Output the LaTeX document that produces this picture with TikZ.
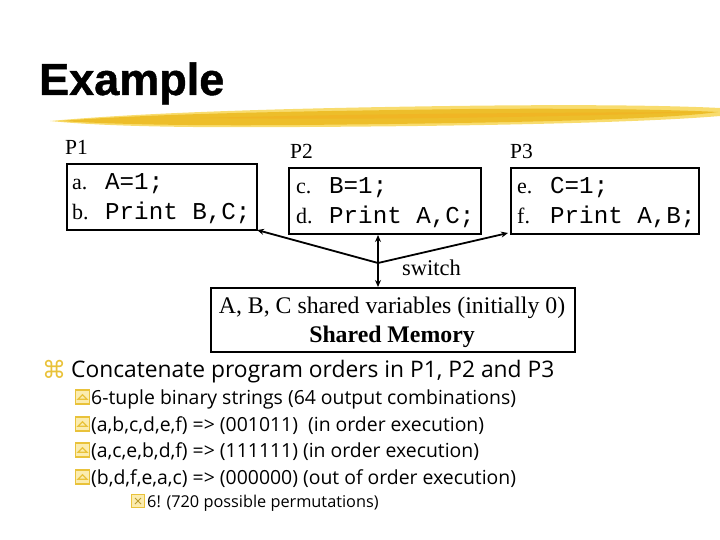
\documentclass[tikz,border=0pt]{standalone}
\usepackage{fontspec}
\setmainfont{Liberation Serif}
\newfontfamily\titlefont[BoldFeatures={FakeBold=1}]{Liberation Sans}
\newfontfamily\bodyfont{Open Sans}
\newfontfamily\codefont{Liberation Mono}
\newfontfamily\symfont{DejaVu Sans}
\usetikzlibrary{arrows.meta,calc}
\definecolor{gold}{HTML}{EDBE2A}
\definecolor{lightgold}{HTML}{F8DC6E}
\definecolor{bulletgold}{HTML}{E9C23A}
\tikzset{
  procbox/.style={draw=black, line width=2pt, minimum width=#1, minimum height=66pt, inner sep=0pt},
  proclabel/.style={anchor=base west, font=\fontsize{21.5}{24}\selectfont, inner sep=0pt},
  codeline/.style={anchor=base west, inner sep=0pt, font=\fontsize{22}{24}\selectfont},
  codetext/.style={anchor=base west, inner sep=0pt, font=\codefont\fontsize{24.2}{24}\selectfont},
  link/.style={line width=1.8pt, -{Stealth[length=7pt,width=6pt]}},
  bul/.style={anchor=base west, inner sep=0pt},
  subbox/.style={draw=bulletgold, fill=lightgold!55, line width=1.2pt, minimum size=14pt, inner sep=0pt},
}
\begin{document}
\begin{tikzpicture}[x=1pt,y=-1pt]
\useasboundingbox (0,0) rectangle (720,540);
% title
\node[anchor=base west, inner sep=0pt, font=\titlefont\bfseries\fontsize{45}{48}\selectfont] (title) at (39,95) {Example};
% brush stroke
\fill[lightgold] (50,121) .. controls (150,112) and (300,108) .. (450,106) .. controls (600,104) and (680,106) .. (720,108) -- (720,116) .. controls (650,122) and (500,126) .. (300,127) .. controls (180,128) and (100,126) .. (50,121) -- cycle;
\fill[gold] (60,121) .. controls (160,113) and (320,111) .. (470,109) .. controls (600,108) and (680,110) .. (718,112) .. controls (660,120) and (500,123) .. (300,125) .. controls (180,126) and (110,124) .. (60,121) -- cycle;
\fill[gold!85!orange] (200,118) .. controls (350,114) and (500,113) .. (700,112) .. controls (550,117) and (400,120) .. (200,118) -- cycle;
% process labels
\node[proclabel] (p1l) at (65,155) {P1};
\node[proclabel] (p2l) at (290,159) {P2};
\node[proclabel] (p3l) at (510,159) {P3};
% process boxes
\node[procbox=190pt, anchor=north west] (p1) at (66,163) {};
\node[procbox=192pt, anchor=north west] (p2) at (288,167) {};
\node[procbox=188pt, anchor=north west] (p3) at (510,167) {};
\node[codeline] (a1) at (72,190) {a.};
\node[codetext] (a1c) at (105,190) {A=1;};
\node[codeline] (b1) at (72,219) {b.};
\node[codetext] (b1c) at (105,219) {Print B,C;};
\node[codeline] (c2) at (296,194) {c.};
\node[codetext] (c2c) at (329,194) {B=1;};
\node[codeline] (d2) at (296,223) {d.};
\node[codetext] (d2c) at (329,223) {Print A,C;};
\node[codeline] (e3) at (517,194) {e.};
\node[codetext] (e3c) at (550,194) {C=1;};
\node[codeline] (f3) at (517,223) {f.};
\node[codetext] (f3c) at (550,223) {Print A,B;};
% memory
\node[draw=black, line width=2pt, anchor=north west, minimum width=364pt, minimum height=64pt, inner sep=0pt] (mem) at (210,287) {};
\node[anchor=base, inner sep=0pt, font=\fontsize{23.8}{26}\selectfont] (mem1) at (392,313) {A, B, C shared variables (initially 0)};
\node[anchor=base, inner sep=0pt, font=\bfseries\fontsize{23.8}{26}\selectfont] (mem2) at (392,342) {Shared Memory};
% switch
\coordinate (sw) at (378,263);
\coordinate (p1c) at (257,230);
\coordinate (p3c) at (508,233);
\draw[link] (sw) -- (p1c);
\draw[link] (sw) -- (p3c);
\draw[link] (sw) -- (p2.south -| sw);
\draw[link] (sw) -- (mem.north -| sw);
\node[anchor=base west, inner sep=0pt, font=\fontsize{22.5}{24}\selectfont] (swl) at (402,275) {switch};
% bullets
\node[bul, text=bulletgold, font=\symfont\fontsize{24}{26}\selectfont] (bz) at (42,378) {⌘};
\node[bul, font=\bodyfont\fontsize{22.8}{26}\selectfont] (t0) at (71,377) {Concatenate program orders in P1, P2 and P3};
\foreach \yy/\txt [count=\i] in {404/{6-tuple binary strings (64 output combinations)},431/{(a,b,c,d,e,f) => (001011)~~(in order execution)},457/{(a,c,e,b,d,f) => (111111) (in order execution)},484/{(b,d,f,e,a,c) => (000000) (out of order execution)}}{
  \node[subbox] (sb\i) at (82.5,\yy-7) {};
  \draw[bulletgold, line width=1.3pt] ($(sb\i.center)+(-4.5,2.2)$) -- ($(sb\i.center)+(0,-2.3)$) -- ($(sb\i.center)+(4.5,2.2)$) -- cycle;
  \node[bul, font=\bodyfont\fontsize{19.4}{22}\selectfont] (t\i) at (91,\yy) {\txt};
}
\node[subbox, minimum size=13pt] (sx) at (138,501) {};
\draw[bulletgold!80!black, line width=0.9pt] ($(sx.center)+(-3,-3)$) -- ($(sx.center)+(3,3)$) ($(sx.center)+(-3,3)$) -- ($(sx.center)+(3,-3)$);
\node[bul, font=\bodyfont\fontsize{16.3}{18}\selectfont] (tx) at (147,507) {6! (720 possible permutations)};
\end{tikzpicture}
\end{document}
